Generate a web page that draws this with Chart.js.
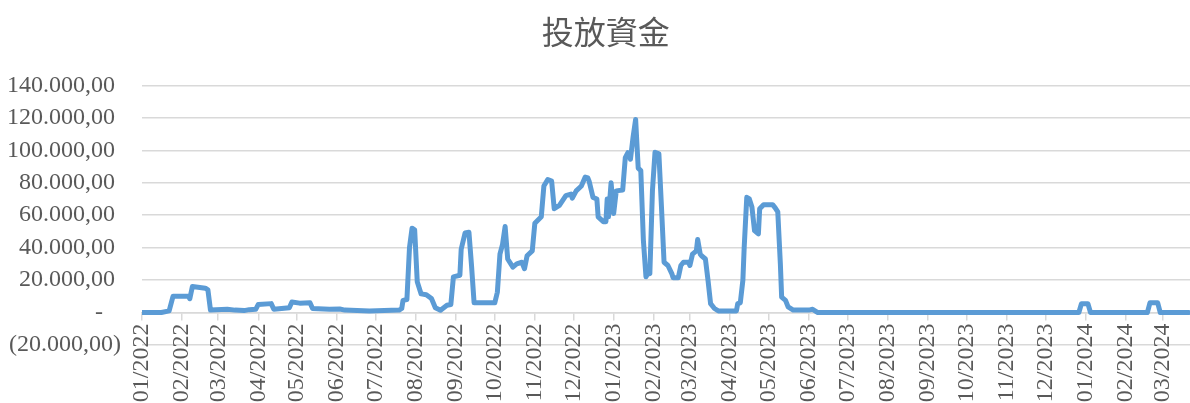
<!DOCTYPE html>
<html>
<head>
<meta charset="utf-8">
<script src="https://cdn.jsdelivr.net/npm/chart.js@4/dist/chart.umd.min.js"></script>
<style>
  html, body { margin: 0; padding: 0; background: #fff; }
  #wrap { width: 1190px; height: 403px; }
</style>
</head>
<body>
<div id="wrap"><canvas id="myChart"></canvas></div>
<script>
// data
var dates = [
  '2022-01-01','2022-01-16','2022-01-22','2022-01-25','2022-02-06','2022-02-07','2022-02-09','2022-02-19','2022-02-21','2022-02-23',
  '2022-03-08','2022-03-14','2022-03-21','2022-03-25','2022-03-30','2022-04-01','2022-04-11','2022-04-13','2022-04-25','2022-04-27',
  '2022-05-03','2022-05-11','2022-05-13','2022-05-26','2022-06-03','2022-06-07','2022-06-26','2022-07-19','2022-07-21','2022-07-22',
  '2022-07-25','2022-07-27','2022-07-29','2022-07-31','2022-08-02','2022-08-05','2022-08-09','2022-08-13','2022-08-16','2022-08-20',
  '2022-08-25','2022-08-28','2022-08-30','2022-09-04','2022-09-05','2022-09-08','2022-09-11','2022-09-13','2022-09-15','2022-10-01',
  '2022-10-03','2022-10-05','2022-10-07','2022-10-09','2022-10-11','2022-10-15','2022-10-18','2022-10-22','2022-10-24','2022-10-26',
  '2022-10-30','2022-11-01','2022-11-06','2022-11-08','2022-11-11','2022-11-14','2022-11-16','2022-11-20','2022-11-25','2022-11-29',
  '2022-11-30','2022-12-03','2022-12-07','2022-12-10','2022-12-12','2022-12-13','2022-12-16','2022-12-19','2022-12-20','2022-12-24',
  '2022-12-26','2022-12-27','2022-12-28','2022-12-30','2023-01-01','2023-01-03','2023-01-08','2023-01-10','2023-01-12','2023-01-14',
  '2023-01-16','2023-01-18','2023-01-19','2023-01-20','2023-01-22','2023-01-24','2023-01-26','2023-01-28','2023-01-29','2023-01-31',
  '2023-02-02','2023-02-05','2023-02-07','2023-02-09','2023-02-12','2023-02-15','2023-02-16','2023-02-20','2023-02-22','2023-02-24',
  '2023-02-28','2023-03-01','2023-03-03','2023-03-06','2023-03-07','2023-03-09','2023-03-10','2023-03-13','2023-03-15','2023-03-17',
  '2023-03-20','2023-03-23','2023-04-06','2023-04-07','2023-04-09','2023-04-11','2023-04-12','2023-04-14','2023-04-16','2023-04-18',
  '2023-04-20','2023-04-23','2023-04-24','2023-04-27','2023-05-04','2023-05-06','2023-05-08','2023-05-10','2023-05-11','2023-05-14',
  '2023-05-16','2023-05-20','2023-06-01','2023-06-04','2023-06-08','2023-12-27','2023-12-29','2024-01-03','2024-01-05','2024-02-18',
  '2024-02-20','2024-02-26','2024-02-28','2024-03-21'
];
var values = [
  0, 0, 1000, 10000, 10000, 8500, 16000, 15000, 14000, 1500,
  2000, 1500, 1200, 1800, 2000, 5000, 5500, 2000, 3000, 6500,
  5800, 6000, 2500, 2000, 2200, 1500, 1000, 1500, 2500, 7500,
  8000, 40000, 52000, 51000, 19000, 11500, 11000, 8600, 3000, 1400,
  4500, 5000, 22000, 23000, 39000, 49000, 49500, 29000, 6000, 6000,
  12500, 36000, 42000, 53000, 33000, 28000, 30000, 31000, 27000, 35000,
  38000, 55000, 59000, 78000, 82000, 81000, 64000, 66000, 72000, 73000,
  70500, 75000, 78000, 83500, 83000, 81000, 71000, 70000, 59000, 56000,
  56000, 70000, 59000, 80000, 61000, 75000, 75500, 95500, 98500, 94500,
  108000, 119000, 104000, 89000, 87500, 44500, 22000, 25000, 24000, 75000,
  98800, 97800, 65000, 31000, 29000, 24000, 21500, 21500, 29000, 31000,
  31000, 29000, 36000, 38000, 45000, 36000, 35000, 33000, 20000, 5500,
  2500, 1000, 1000, 5500, 6000, 20000, 40000, 71000, 70000, 65000,
  50500, 48500, 64000, 66500, 66500, 64500, 62000, 30000, 9500, 7500,
  3500, 1500, 1500, 2000, 0, 0, 5500, 5500, 0, 0,
  6000, 6000, 0, 0
];
var monthLabels = [
  '01/2022','02/2022','03/2022','04/2022','05/2022','06/2022','07/2022','08/2022','09/2022','10/2022','11/2022','12/2022',
  '01/2023','02/2023','03/2023','04/2023','05/2023','06/2023','07/2023','08/2023','09/2023','10/2023','11/2023','12/2023',
  '01/2024','02/2024','03/2024'
];

var START = Date.UTC(2022, 0, 1);
function dayOf(y, m, d) { return (Date.UTC(y, m - 1, d) - START) / 86400000; }
function dayOfStr(s) { var p = s.split('-'); return dayOf(+p[0], +p[1], +p[2]); }

var points = dates.map(function (d, i) { return { x: dayOfStr(d), y: values[i] }; });
var monthTicks = monthLabels.map(function (l) { var p = l.split('/'); return dayOf(+p[1], +p[0], 1); });

// 140000 -> "140.000,00 ", 0 -> "-", negatives in brackets
function fmt(v) {
  if (v === 0) return '-   ';
  var s = Math.abs(v).toFixed(0).replace(/\B(?=(\d{3})+(?!\d))/g, '.') + ',00';
  return v < 0 ? '(' + s + ')' : s + ' ';
}

var serif = "'Liberation Serif', 'Times New Roman', serif";
var ctx = document.getElementById('myChart').getContext('2d');
var chart = new Chart(ctx, {
  type: 'line',
  data: {
    datasets: [{
      label: '投放資金',
      data: points,
      borderColor: '#5b9bd5',
      borderWidth: 5,
      pointRadius: 0,
      fill: false,
      tension: 0,
      borderJoinStyle: 'round',
      borderCapStyle: 'round'
    }]
  },
  options: {
    responsive: true,
    maintainAspectRatio: false,
    animation: false,
    layout: { padding: { left: 0, right: 0, top: 0, bottom: 58 } },
    plugins: {
      legend: { display: false },
      tooltip: { enabled: false },
      title: {
        display: true,
        text: '   投放資金', // leading spaces push it a bit right like the original
        color: '#595959',
        font: { family: "'Noto Sans CJK TC', 'Noto Sans CJK JP', sans-serif", size: 32, weight: 'normal' },
        padding: { top: 13, bottom: 34 }
      }
    },
    scales: {
      x: {
        type: 'linear',
        position: { y: 0 }, // axis crosses at zero like Excel
        min: 0,
        max: 811,
        afterBuildTicks: function (scale) {
          scale.ticks = monthTicks.map(function (v) { return { value: v }; });
        },
        afterFit: function (scale) { scale.paddingLeft = 0; scale.paddingRight = 0; },
        grid: { drawOnChartArea: false, drawTicks: true, tickLength: 7, color: '#d9d9d9', lineWidth: 1.5 },
        border: { display: true, color: '#d9d9d9', width: 1.5 },
        ticks: {
          autoSkip: false,
          minRotation: 90,
          maxRotation: 90,
          padding: 4,
          color: '#595959',
          font: { family: serif, size: 24 },
          callback: function (value, index) { return monthLabels[index]; }
        }
      },
      y: {
        min: -20000,
        max: 140000,
        afterFit: function (scale) { scale.width = 142; },
        grid: { color: '#d9d9d9', lineWidth: 1.5, drawTicks: false },
        border: { display: false },
        ticks: {
          stepSize: 20000,
          padding: 21,
          color: '#595959',
          font: { family: serif, size: 24 },
          callback: function (value) { return fmt(value); }
        }
      }
    }
  }
});
</script>
</body>
</html>
